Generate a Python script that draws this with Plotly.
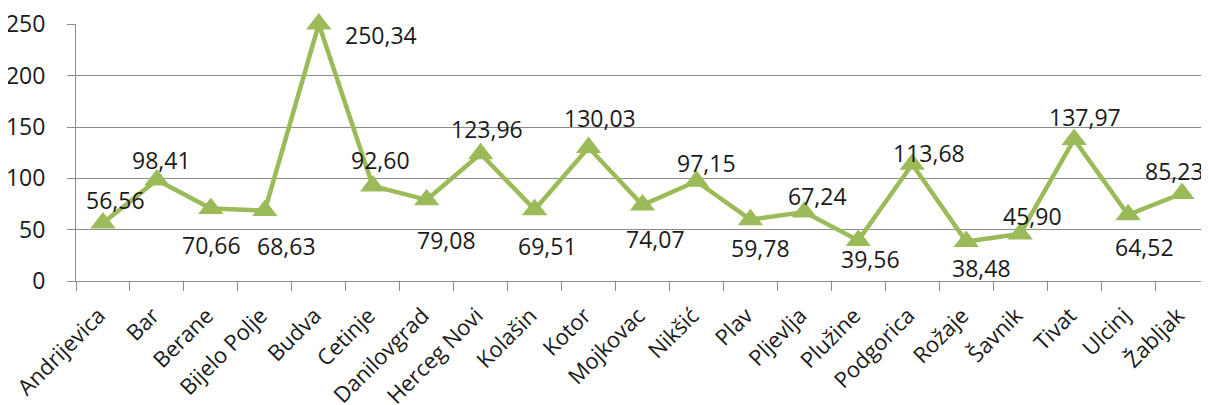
import plotly.graph_objects as go

categories = ["Andrijevica", "Bar", "Berane", "Bijelo Polje", "Budva", "Cetinje",
              "Danilovgrad", "Herceg Novi", "Kolašin", "Kotor", "Mojkovac", "Nikšić",
              "Plav", "Pljevlja", "Plužine", "Podgorica", "Rožaje", "Šavnik", "Tivat",
              "Ulcinj", "Žabljak"]
values = [56.56, 98.41, 70.66, 68.63, 250.34, 92.60, 79.08, 123.96, 69.51, 130.03,
          74.07, 97.15, 59.78, 67.24, 39.56, 113.68, 38.48, 45.90, 137.97, 64.52, 85.23]
y_ticks = [0, 50, 100, 150, 200, 250]

# label offsets in pixels (dx right, dy down) relative to each point
label_dx = [13, 5, 1, 22, 62, 8, 20, 6, 13, 11, 13, 10, 10, 13, 12, 17, 15, 12, 11, 16, -8]
label_dy = [-23, -20, 37, 35, 11, -26, 40, -25, 36, -30, 34, -18, 28, -16, 19, -11, 26, -18, -22, 32, -23]

GREEN = "#9BBB59"
GRID = "#8c8c8c"
FONT = "Open Sans"
TXT = "#1a1a1a"

fig = go.Figure()
fig.add_trace(go.Scatter(
    x=categories, y=values, mode="lines+markers",
    line=dict(color=GREEN, width=4.5),
    marker=dict(symbol="triangle-up", size=22, color=GREEN),
    cliponaxis=False, showlegend=False, hoverinfo="skip"))

def fmt(v):
    return f"{v:.2f}".replace(".", ",")

for c, v, dx, dy in zip(categories, values, label_dx, label_dy):
    fig.add_annotation(x=c, y=v, text=fmt(v), showarrow=False,
                       xshift=dx, yshift=-dy,
                       font=dict(family=FONT, size=23, color=TXT))

# page body has an 8px default margin, so the figure is sized to fit the window
fig.update_layout(
    width=1201, height=397, autosize=False,
    margin=dict(l=68, r=0, t=16, b=124),
    paper_bgcolor="white", plot_bgcolor="white",
    font=dict(family=FONT, color=TXT),
    xaxis=dict(type="category", range=[-0.5, len(categories) - 0.5],
               automargin=False,
               showline=True, linecolor=GRID, linewidth=1,
               ticks="outside", tickson="boundaries", ticklen=9, tickcolor=GRID,
               tickangle=-45, tickfont=dict(family=FONT, size=22, color=TXT),
               ticklabelstandoff=12, ticklabelshift=-4,
               ticklabeloverflow="allow",
               showgrid=False, zeroline=False),
    yaxis=dict(range=[0, max(values) + 0.05], tickvals=y_ticks,
               automargin=False,
               showline=True, linecolor=GRID, linewidth=1,
               ticks="outside", ticklen=8, tickcolor=GRID,
               ticklabelstandoff=17, ticklabeloverflow="allow",
               showgrid=True, gridcolor=GRID, gridwidth=1, zeroline=False,
               tickfont=dict(family=FONT, size=23, color=TXT)),
)

fig.write_html("out.html")
